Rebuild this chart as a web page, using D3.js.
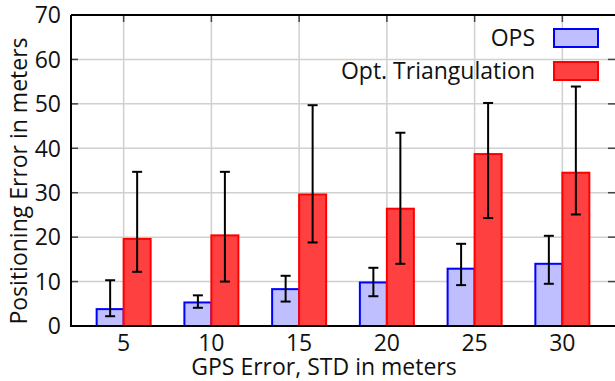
<!DOCTYPE html>
<html lang="en">
<head>
<meta charset="utf-8">
<title>Positioning error vs GPS error</title>
<script src="https://d3js.org/d3.v7.min.js"></script>
<style>
  body { margin: 0; background: #fff; }
  text { font-family: "Open Sans", sans-serif; fill: #111; }
</style>
</head>
<body>
<script>
// data
var categories = ["5", "10", "15", "20", "25", "30"];
var opsMean = [3.8, 5.3, 8.3, 9.8, 12.9, 14.0];
var opsLow  = [2.2, 4.1, 5.5, 6.7, 9.2, 9.5];
var opsHigh = [10.3, 6.9, 11.3, 13.1, 18.5, 20.3];
var triMean = [19.6, 20.4, 29.6, 26.4, 38.7, 34.5];
var triLow  = [12.2, 10.0, 18.8, 14.0, 24.3, 25.1];
var triHigh = [34.7, 34.7, 49.7, 43.5, 50.2, 53.9];
var yTicks = [0, 10, 20, 30, 40, 50, 60, 70];
var seriesNames = ["OPS", "Opt. Triangulation"];

var width = 615, height = 381;
var plotLeft = 71, plotTop = 15, plotBottom = 326;
var fs = "23px";

var svg = d3.select("body").append("svg")
  .attr("width", width)
  .attr("height", height);

// category index scale, gnuplot-like range with padding
var x = d3.scaleLinear().domain([0.4, 6.6]).range([plotLeft, 615]);
var y = d3.scaleLinear().domain([0, 70]).range([plotBottom, plotTop]);
var barW = 27;

var grid = svg.append("g");
//horizontal grid
grid.selectAll(".hg").data(yTicks.slice(1, -1)).enter().append("line")
  .attr("x1", plotLeft).attr("x2", 620)
  .attr("y1", function(d) { return y(d); }).attr("y2", function(d) { return y(d); })
  .attr("stroke", "#d0d0d0").attr("stroke-width", 1.5);
//vertical grid
grid.selectAll(".vg").data(categories).enter().append("line")
  .attr("x1", function(d, i) { return x(i + 1); }).attr("x2", function(d, i) { return x(i + 1); })
  .attr("y1", plotTop).attr("y2", plotBottom)
  .attr("stroke", "#d0d0d0").attr("stroke-width", 1.5);

// border ticks
var tk = svg.append("g").attr("stroke", "#444").attr("stroke-width", 1.5);
tk.selectAll(".lt").data(yTicks).enter().append("line")
  .attr("x1", plotLeft).attr("x2", plotLeft + 7)
  .attr("y1", function(d) { return y(d); }).attr("y2", function(d) { return y(d); });
tk.selectAll(".rt").data(yTicks).enter().append("line")
  .attr("x1", 608).attr("x2", 616)
  .attr("y1", function(d) { return y(d); }).attr("y2", function(d) { return y(d); });
tk.selectAll(".tt").data(categories).enter().append("line")
  .attr("x1", function(d, i) { return x(i + 1); }).attr("x2", function(d, i) { return x(i + 1); })
  .attr("y1", plotTop).attr("y2", plotTop + 7);
tk.selectAll(".bt").data(categories).enter().append("line")
  .attr("x1", function(d, i) { return x(i + 1); }).attr("x2", function(d, i) { return x(i + 1); })
  .attr("y1", plotBottom).attr("y2", plotBottom - 7);

// bars
var g = svg.append("g");
g.selectAll(".ops").data(opsMean).enter().append("rect")
  .attr("x", function(d, i) { return x(i + 1) - barW; })
  .attr("y", function(d) { return y(d); })
  .attr("width", barW)
  .attr("height", function(d) { return plotBottom - y(d); })
  .attr("fill", "rgb(191,191,255)")
  .attr("stroke", "#0000ff").attr("stroke-width", 2);
g.selectAll(".tri").data(triMean).enter().append("rect")
  .attr("x", function(d, i) { return x(i + 1); })
  .attr("y", function(d) { return y(d); })
  .attr("width", barW)
  .attr("height", function(d) { return plotBottom - y(d); })
  .attr("fill", "rgb(255,64,64)")
  .attr("stroke", "#ff0000").attr("stroke-width", 2);

// error bars
function errBars(low, high, off) {
  var e = svg.append("g").attr("stroke", "#000").attr("stroke-width", 2);
  low.forEach(function(lo, i) {
    var cx = x(i + 1) + off;
    e.append("line").attr("x1", cx).attr("x2", cx).attr("y1", y(lo)).attr("y2", y(high[i]));
    e.append("line").attr("x1", cx - 5).attr("x2", cx + 5).attr("y1", y(lo)).attr("y2", y(lo));
    e.append("line").attr("x1", cx - 5).attr("x2", cx + 5).attr("y1", y(high[i])).attr("y2", y(high[i]));
  });
}
errBars(opsLow, opsHigh, -barW / 2);
errBars(triLow, triHigh, barW / 2);

// frame
svg.append("path")
  .attr("d", "M" + plotLeft + "," + plotTop + "V" + plotBottom + "H620M" + plotLeft + "," + plotTop + "H620")
  .attr("fill", "none").attr("stroke", "#000").attr("stroke-width", 2);

// tick labels
svg.selectAll(".yl").data(yTicks).enter().append("text")
  .attr("x", 61).attr("y", function(d) { return y(d); })
  .attr("dy", "0.36em").attr("text-anchor", "end")
  .style("font-size", fs)
  .text(function(d) { return d; });
svg.selectAll(".xl").data(categories).enter().append("text")
  .attr("x", function(d, i) { return x(i + 1); }).attr("y", 351)
  .attr("text-anchor", "middle")
  .style("font-size", fs)
  .text(function(d) { return d; });

// axis titles
svg.append("text")
  .attr("x", 324).attr("y", 375).attr("text-anchor", "middle")
  .style("font-size", fs)
  .text("GPS Error, STD in meters");
svg.append("text")
  .attr("transform", "translate(27,181) rotate(-90)")
  .attr("text-anchor", "middle")
  .style("font-size", fs)
  .text("Positioning Error in meters");

// legend
var legend = svg.append("g");
var fills = ["rgb(191,191,255)", "rgb(255,64,64)"];
var strokes = ["#0000ff", "#ff0000"];
seriesNames.forEach(function(name, i) {
  var ly = 38 + i * 33;
  legend.append("text").attr("x", 535).attr("y", ly).attr("dy", "0.36em")
    .attr("text-anchor", "end").style("font-size", fs).text(name);
  legend.append("rect").attr("x", 554).attr("y", ly - 9).attr("width", 44).attr("height", 18)
    .attr("fill", fills[i]).attr("stroke", strokes[i]).attr("stroke-width", 2);
});
</script>
</body>
</html>
